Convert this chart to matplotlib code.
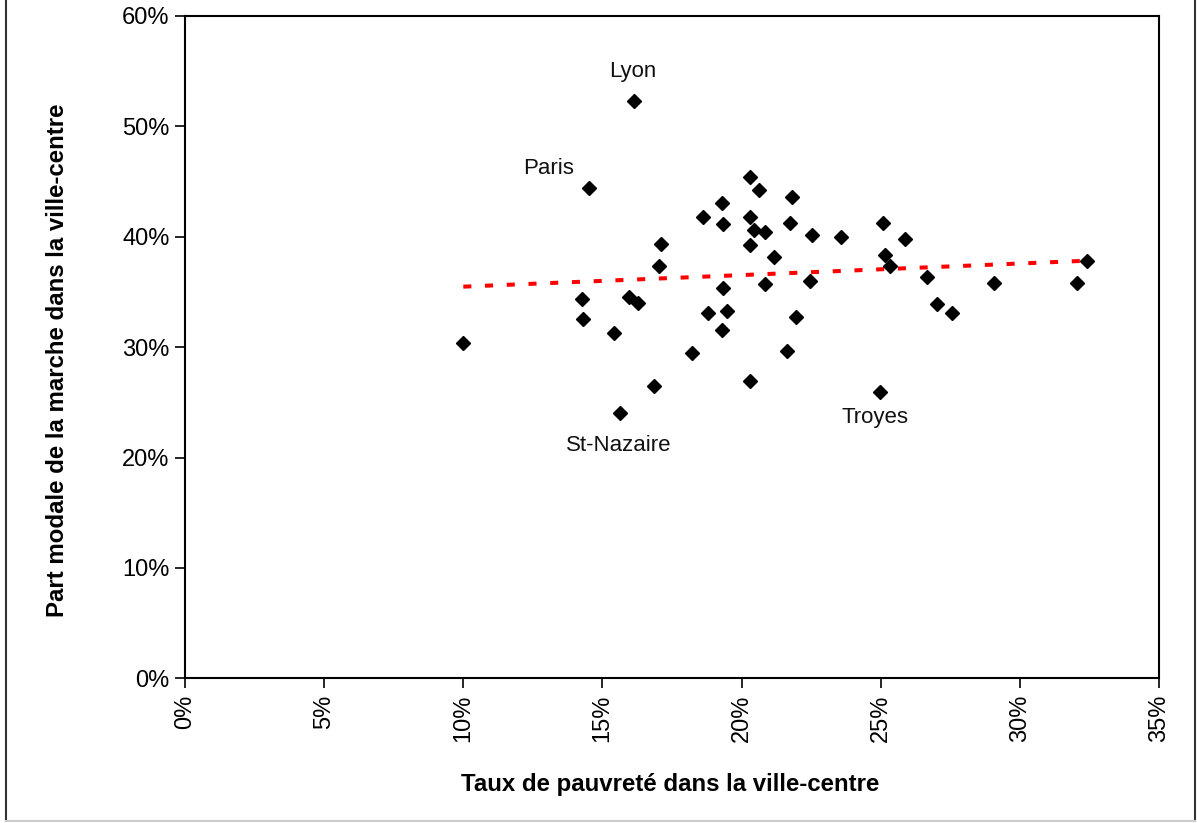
import matplotlib
matplotlib.use("Agg")
import matplotlib.pyplot as plt
from matplotlib.ticker import FuncFormatter
from matplotlib.lines import Line2D

# Poverty rate in the central city (%)
pauvrete = [10.0, 16.14, 14.51, 19.28, 18.63, 19.34, 17.12, 17.04, 19.33, 14.25,
            15.94, 16.27, 14.31, 18.80, 19.47, 15.40, 19.28, 18.22, 16.86, 15.62,
            20.31, 20.64, 21.82, 20.31, 21.75, 20.44, 20.85, 20.31, 22.54, 23.59,
            25.07, 25.86, 21.16, 25.15, 25.35, 32.41, 20.84, 22.47, 26.66, 29.07,
            32.07, 21.96, 27.03, 27.57, 21.63, 20.31, 24.97]
# Walking modal share in the central city (%)
marche = [30.4, 52.27, 44.42, 43.09, 41.77, 41.13, 39.32, 37.35, 35.34, 34.39,
          34.54, 34.03, 32.58, 33.08, 33.23, 31.26, 31.57, 29.44, 26.48, 24.06,
          45.39, 44.21, 43.58, 41.77, 41.28, 40.61, 40.46, 39.28, 40.13, 39.95,
          41.28, 39.77, 38.17, 38.32, 37.33, 37.83, 35.69, 36.02, 36.33, 35.84,
          35.84, 32.76, 33.88, 33.07, 29.62, 26.96, 25.96]

# Linear trend line
trend_x = [10.0, 32.4]
trend_y = [35.48, 37.83]

# Labelled cities and label positions
villes = ["Lyon", "Paris", "St-Nazaire", "Troyes"]
villes_lx = [16.1, 13.07, 15.6, 24.8]
villes_ly = [55.0, 46.2, 21.1, 23.6]

xticks = [0, 5, 10, 15, 20, 25, 30, 35]
yticks = [0, 10, 20, 30, 40, 50, 60]

plt.rcParams['font.family'] = ['Liberation Sans', 'DejaVu Sans']

W, H = 1197, 823
fig = plt.figure(figsize=(W / 100, H / 100), dpi=100)
ax = fig.add_axes([185 / W, 1 - 678.3 / H, (1159 - 185) / W, (678.3 - 16) / H])

ax.plot(trend_x, trend_y, color='#ff0000', lw=2.9, dashes=(2.0, 3.4),
        dash_capstyle='butt', zorder=2)
ax.plot(pauvrete, marche, linestyle='none', marker='D', markersize=7.3,
        color='black', zorder=3)

for name, lx, ly in zip(villes, villes_lx, villes_ly):
    ax.text(lx, ly, name, ha='center', va='center', fontsize=16, color='#111111')

ax.set_xlim(0, 35)
ax.set_ylim(0, 60)
ax.set_xticks(xticks)
ax.set_yticks(yticks)
ax.xaxis.set_major_formatter(FuncFormatter(lambda v, p: f"{int(round(v))}%"))
ax.yaxis.set_major_formatter(FuncFormatter(lambda v, p: f"{int(round(v))}%"))
ax.tick_params(axis='both', direction='out', length=7, width=1.2, labelsize=17,
               colors='black', pad=4)
ax.tick_params(axis='x', labelrotation=90, pad=5)
for s in ax.spines.values():
    s.set_linewidth(1.5)
    s.set_color('black')

fig.text(670 / W, 1 - 785 / H, "Taux de pauvreté dans la ville-centre",
         ha='center', va='center', fontsize=17.3, fontweight='bold')
fig.text(58 / W, 1 - 360 / H, "Part modale de la marche dans la ville-centre",
         ha='center', va='center', rotation=90, fontsize=17.3, fontweight='bold')

# Outer frame
fig.add_artist(Line2D([6 / W, 6 / W], [1 - 821 / H, 1], transform=fig.transFigure,
                      color='#333333', lw=1.5))
fig.add_artist(Line2D([1195 / W, 1195 / W], [1 - 821 / H, 1], transform=fig.transFigure,
                      color='#333333', lw=1.5))
fig.add_artist(Line2D([6 / W, 1195 / W], [1 - 821 / H, 1 - 821 / H], transform=fig.transFigure,
                      color='#cccccc', lw=1.5))

fig.savefig("out.png", dpi=100)
